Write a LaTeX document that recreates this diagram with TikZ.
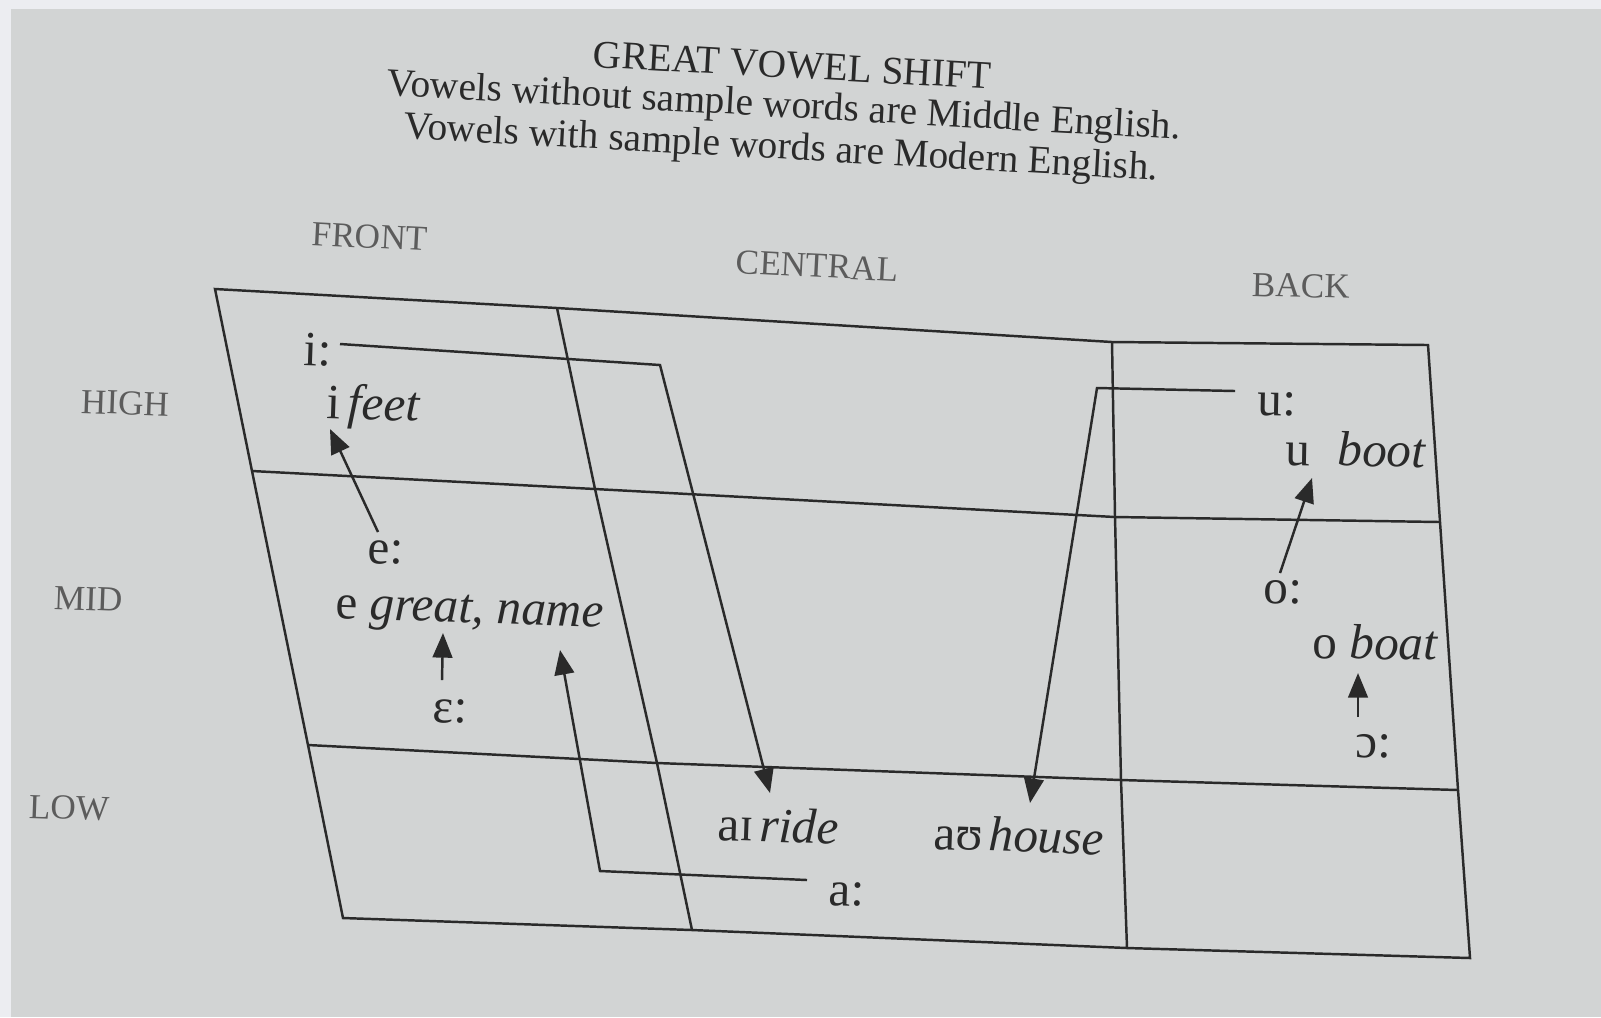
\documentclass[tikz,border=0pt]{standalone}
\usepackage{fontspec}
\setmainfont{Liberation Serif}
\usetikzlibrary{arrows.meta}
\definecolor{paper}{RGB}{210,212,212}
\definecolor{paperedge}{RGB}{236,237,241}
\definecolor{ink}{RGB}{42,42,42}
\definecolor{faded}{RGB}{92,92,92}

\begin{document}
\begin{tikzpicture}[x=0.01cm,y=-0.01cm,
  chartline/.style={ink,line width=0.7pt,line join=miter},
  movearrow/.style={ink,line width=0.7pt,line join=miter,-{Triangle[length=7pt,width=5.6pt]}},
  lbl/.style={font=\fontsize{14}{16}\selectfont,text=ink,inner sep=0pt,anchor=base west,rotate=-2},
  hdr/.style={font=\fontsize{10}{12}\selectfont,text=faded,inner sep=0pt,anchor=base west,rotate=-3},
  ttl/.style={font=\fontsize{11.2}{13}\selectfont,text=ink,inner sep=0pt,anchor=base west,rotate=-3.2}]
  % page
  \useasboundingbox (0,0) rectangle (1601,1017);
  \fill[paper] (0,0) rectangle (1601,1017);
  \fill[paperedge] (0,0) rectangle (1601,9);
  \fill[paperedge] (0,0) rectangle (11,1017);

  % title
  \node[ttl] (title) at (592,67) {GREAT VOWEL SHIFT};
  \node[ttl] (note1) at (386,95) {Vowels without sample words are Middle English.};
  \node[ttl] (note2) at (403,138) {Vowels with sample words are Modern English.};

  % column and row headings
  \node[hdr] (front) at (311,245) {FRONT};
  \node[hdr] (central) at (735,273) {CENTRAL};
  \node[hdr,rotate=1.5] (back) at (1251,296) {BACK};
  \node[hdr,rotate=1] (high) at (80,413) {HIGH};
  \node[hdr,rotate=1] (mid) at (53,609) {MID};
  \node[hdr,rotate=1] (low) at (28,818) {LOW};

  % chart corners: t = top, h = high/mid, l = mid/low, b = bottom
  \coordinate (t0) at (215,289);  \coordinate (t1) at (557,308);
  \coordinate (t2) at (1112,342); \coordinate (t3) at (1428,345);
  \coordinate (h0) at (252,471);  \coordinate (h1) at (595,489);
  \coordinate (h2) at (1115,517); \coordinate (h3) at (1440,522);
  \coordinate (l0) at (308,745);  \coordinate (l1) at (657,763);
  \coordinate (l2) at (1121,780); \coordinate (l3) at (1458,790);
  \coordinate (b0) at (343,918);  \coordinate (b1) at (692,930);
  \coordinate (b2) at (1127,948); \coordinate (b3) at (1470,958);

  \draw[chartline] (t0)--(t1)--(t2)--(t3)--(h3)--(l3)--(b3)--(b2)--(b1)--(b0)--(l0)--(h0)--cycle;
  \foreach \r in {h,l}
    \draw[chartline] (\r0)--(\r1)--(\r2)--(\r3);
  \foreach \c in {1,2}
    \draw[chartline] (t\c)--(h\c)--(l\c)--(b\c);

  % vowels
  \node[lbl] (ilong) at (303,365) {i:};
  \node[lbl] (ishort) at (326,418) {i\hspace{0.15em}\textit{feet}};
  \node[lbl] (elong) at (367,563) {e:};
  \node[lbl] (eshort) at (335,618) {e \textit{great, name}};
  \node[lbl] (epslong) at (432,722) {ɛ:};
  \node[lbl] (aishort) at (717,840) {aɪ\hspace{0.12em}\textit{ride}};
  \node[lbl] (aushort) at (933,849) {aʊ\hspace{0.12em}\textit{house}};
  \node[lbl] (along) at (828,905) {a:};
  \node[lbl,rotate=1] (ulong) at (1257,415) {u:};
  \node[lbl,rotate=1] (ushort) at (1285,465) {u\hspace{0.55em}\textit{boot}};
  \node[lbl,rotate=1] (olong) at (1263,603) {o:};
  \node[lbl,rotate=1] (oshort) at (1312,658) {o \textit{boat}};
  \node[lbl,rotate=1] (openlong) at (1355,757) {ɔ:};

  % shifts
  \coordinate (istart) at (340,344);  \coordinate (ibend) at (660,365);  \coordinate (iend) at (770,793);
  \coordinate (ustart) at (1235,391); \coordinate (ubend) at (1097,388); \coordinate (uend) at (1030,803);
  \coordinate (astart) at (807,880);  \coordinate (abend) at (600,871);  \coordinate (aend) at (560,650);
  \draw[movearrow] (istart)--(ibend)--(iend);
  \draw[movearrow] (ustart)--(ubend)--(uend);
  \draw[movearrow] (astart)--(abend)--(aend);
  \coordinate (efrom) at (378,532);  \coordinate (eto) at (330,429);
  \coordinate (epsfrom) at (442,680); \coordinate (epsto) at (443,633);
  \coordinate (ofrom) at (1280,573); \coordinate (oto) at (1312,478);
  \coordinate (openfrom) at (1358,717); \coordinate (opento) at (1358,673);
  \draw[movearrow] (efrom)--(eto);
  \draw[movearrow] (epsfrom)--(epsto);
  \draw[movearrow] (ofrom)--(oto);
  \draw[movearrow] (openfrom)--(opento);
\end{tikzpicture}
\end{document}
